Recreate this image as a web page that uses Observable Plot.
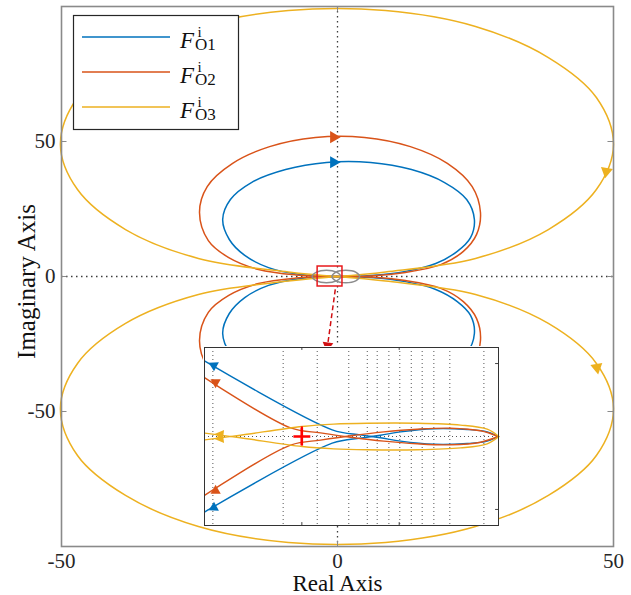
<!DOCTYPE html>
<html><head><meta charset="utf-8">
<script src="https://cdn.jsdelivr.net/npm/d3@7"></script>
<script src="https://cdn.jsdelivr.net/npm/@observablehq/plot@0.6"></script>
<style>
body{margin:0;background:#fff;}
#wrap{position:relative;width:631px;height:595px;font-family:"Liberation Serif","DejaVu Serif",serif;}
#main{position:absolute;left:0;top:0;}
#inset{position:absolute;left:203px;top:346px;}
#legend{position:absolute;left:0;top:0;}
</style></head>
<body><div id="wrap"><div id="main"></div><div id="inset"></div><svg id="legend" width="631" height="595"></svg></div>
<script>
// ---- data ----
const xTicks = [-50, 0, 50];
const yTicks = [-50, 0, 50];
const seriesNames = ["O1", "O2", "O3"];
const seriesColors = ["#0072BD", "#D95319", "#EDB120"];
const serif = '"Liberation Serif", "DejaVu Serif", serif';

// upper half of each Nyquist loop (positive frequencies), main view
const loopO1 = [[0,0],[-6.7,0.7],[-12.5,3.3],[-16.8,7.8],[-19.6,13.7],[-20.8,21.1],[-19.4,28.5],[-15.6,34.8],[-9.4,39.6],[-2.0,42.2],[6.0,42.2],[13.4,39.6],[19.4,34.8],[23.4,28.5],[24.8,21.1],[24.1,14.4],[21.7,9.3],[17.8,4.8],[12.3,1.9],[6.0,0.4],[0,0]];
const loopO2 = [[0,0],[-7.6,0.6],[-14.3,2.6],[-19.7,7.0],[-23.4,13.3],[-25.0,23.7],[-23.6,33.3],[-19.0,41.9],[-12.3,48.1],[-4.0,51.5],[4.9,51.5],[13.2,48.1],[19.9,41.9],[24.4,33.3],[25.9,23.7],[25.2,15.6],[22.8,9.3],[18.7,4.4],[12.3,1.5],[6.0,0.2],[0,0]];
const loopO3 = [[0,0],[-8.9,1.7],[-25.2,6.7],[-38.4,17.4],[-47.1,32.2],[-50.2,48.9],[-47.1,66.3],[-38.4,81.1],[-25.2,92.6],[-8.9,98.5],[8.7,98.5],[25.0,92.6],[38.2,81.1],[46.9,66.3],[50.0,48.9],[46.9,32.2],[38.2,17.4],[25.0,6.7],[8.7,1.7],[0,0]];

// direction arrows in the main view: [x, y, rotation°, series]
const mainArrows = [[-0.7,42.3,90,0],[-0.7,51.6,90,1],[48.7,38.9,190,2],[47.0,-33.7,170,2]];

// grey zoom ellipses around the origin and the zoom box
const ellipseL = [[-4.6,0],[-3.8,1.6],[-2.0,2.3],[-0.2,1.6],[0.6,0],[-0.2,-1.6],[-2.0,-2.3],[-3.8,-1.6]];
const ellipseR = [[-1.0,0],[-0.3,1.6],[1.5,2.3],[3.3,1.6],[4.0,0],[3.3,-1.6],[1.5,-2.3],[-0.3,-1.6]];
const zoomBox = {x1: -3.6, x2: 0.9, y1: -3.7, y2: 3.7};
const zoomPointer = {x1: -0.4, y1: -4.8, x2: -1.8, y2: -25.6};

// inset (zoom near the origin): upper branches
const insetO1 = [[-1.498,0.516],[-0.844,0.046],[-0.699,0.011],[-0.596,-0.009],[-0.493,-0.032],[-0.322,-0.053],[-0.151,-0.048],[-0.048,-0.032],[0.008,0]];
const insetO2 = [[-1.498,0.402],[-1.058,0.059],[-0.904,0.025],[-0.75,-0.005],[-0.579,-0.032],[-0.408,-0.050],[-0.237,-0.057],[-0.082,-0.039],[0.008,0]];
const insetO3 = [[-1.498,0.023],[-1.315,-0.009],[-0.998,-0.069],[-0.836,-0.085],[-0.665,-0.091],[-0.408,-0.091],[-0.185,-0.078],[-0.048,-0.050],[0.012,0]];
const insetArrows = [[-1.452,0.487,-61.6,0],[-1.443,0.372,-59.7,1],[-1.418,0.012,-82.7,2]];
const insetGridX = [-1.457,-1.096,-0.921,-0.759,-0.664,-0.613,-0.553,-0.497,-0.438,-0.382,-0.322,-0.240,-0.065];
const criticalPoint = [{x: -1, y: 0, y1: -0.066, y2: 0.066}];

// ---- build tables ----
const loops = [loopO1, loopO2, loopO3];
const mainLines = [];
loops.forEach((L, s) => {
  L.forEach(([x, y]) => mainLines.push({x, y, s, part: s + "u"}));
  L.forEach(([x, y]) => mainLines.push({x, y: -y, s, part: s + "l"}));
});
const arrowsMain = mainArrows.map(([x, y, r, s]) => ({x, y, r, s}));
const ell = [ellipseL.map(([x,y]) => ({x, y, e: "L"})), ellipseR.map(([x,y]) => ({x, y, e: "R"}))].flat();

const insets = [insetO1, insetO2, insetO3];
const insetLines = [];
insets.forEach((L, s) => {
  L.forEach(([x, y]) => insetLines.push({x, y, s, part: s + "u"}));
  L.forEach(([x, y]) => insetLines.push({x, y: -y, s, part: s + "l"}));
});
const arrowsInset = [];
insetArrows.forEach(([x, y, r, s]) => {
  arrowsInset.push({x, y, r, s});
  arrowsInset.push({x, y: -y, r: 180 - r, s});
});

const color = {type: "ordinal", domain: [0, 1, 2], range: seriesColors};
const dotted = {stroke: "#3c3c3c", strokeDasharray: "1.5,3.5", strokeWidth: 1.3};

const main = Plot.plot({
  width: 631, height: 595,
  marginLeft: 61, marginRight: 18, marginTop: 6, marginBottom: 49,
  x: {domain: [-50, 50], axis: null},
  y: {domain: [-100, 100], axis: null},
  color,
  style: {fontFamily: serif, fontSize: "21px", color: "#262626", background: "white", overflow: "visible"},
  marks: [
    Plot.ruleY([0], dotted),
    Plot.ruleX([0], dotted),
    Plot.line(mainLines, {x: "x", y: "y", z: "part", stroke: "s", strokeWidth: 1.5, curve: "catmull-rom"}),
    Plot.dot(arrowsMain, {x: "x", y: "y", rotate: "r", fill: "s", symbol: "triangle", r: 4.5, stroke: null}),
    Plot.line(ell, {x: "x", y: "y", z: "e", stroke: "#8c8c8c", strokeWidth: 1.5, curve: "catmull-rom-closed"}),
    Plot.rect([zoomBox], {x1: "x1", x2: "x2", y1: "y1", y2: "y2", fill: "none", stroke: "#e8191c", strokeWidth: 1.5}),
    Plot.link([zoomPointer], {x1: "x1", y1: "y1", x2: "x2", y2: "y2", stroke: "#d10f12", strokeWidth: 1.5, strokeDasharray: "5,3"}),
    Plot.dot([zoomPointer], {x: "x2", y: "y2", symbol: "triangle", rotate: 188, r: 4, fill: "#d10f12"}),
    Plot.ruleX(xTicks, {y1: -100, y2: -98, stroke: "#8a8a8a"}),
    Plot.ruleX(xTicks, {y1: 100, y2: 98, stroke: "#8a8a8a"}),
    Plot.ruleY(yTicks, {x1: -50, x2: -49, stroke: "#8a8a8a"}),
    Plot.ruleY(yTicks, {x1: 50, x2: 49, stroke: "#8a8a8a"}),
    Plot.frame({stroke: "#8a8a8a", strokeWidth: 1.6}),
    Plot.axisX(xTicks, {tickSize: 0, tickPadding: 7, label: null, tickFormat: d => String(d), fontFamily: serif, fontSize: 21}),
    Plot.axisY(yTicks, {tickSize: 0, tickPadding: 6, label: null, tickFormat: d => String(d), fontFamily: serif, fontSize: 21}),
    Plot.text(["Real Axis"], {frameAnchor: "bottom", lineAnchor: "middle", dy: 37, fontSize: 23, fontFamily: serif, fill: "#111"}),
    Plot.text(["Imaginary Axis"], {frameAnchor: "left", textAnchor: "middle", lineAnchor: "middle", dx: -35, dy: 5, rotate: -90, fontSize: 25, fontFamily: serif, fill: "#111"})
  ]
});
document.getElementById("main").appendChild(main);

const inset = Plot.plot({
  width: 296, height: 180, margin: 1,
  x: {domain: [-1.5, 0.01], axis: null},
  y: {domain: [-0.61, 0.61], axis: null},
  color,
  style: {background: "white", overflow: "visible"},
  marks: [
    Plot.ruleX(insetGridX, {stroke: "#555", strokeDasharray: "1,3", strokeWidth: 1}),
    Plot.ruleY([0], {stroke: "#555", strokeDasharray: "1,3", strokeWidth: 1}),
    Plot.line(insetLines, {x: "x", y: "y", z: "part", stroke: "s", strokeWidth: 1.4, curve: "catmull-rom"}),
    Plot.dot(arrowsInset, {x: "x", y: "y", rotate: "r", fill: "s", symbol: "triangle", r: 3.8, stroke: null}),
    Plot.ruleX(criticalPoint, {x: "x", y1: "y1", y2: "y2", stroke: "#ff0000", strokeWidth: 2.2}),
    Plot.dot(criticalPoint, {x: "x", y: "y", symbol: "plus", r: 5.5, stroke: "#ff0000", strokeWidth: 2.5}),
    Plot.ruleY([-0.5, 0.5], {x1: 0.01, x2: -0.005, stroke: "#444"}),
    Plot.ruleX([-1, -0.5], {y1: 0.61, y2: 0.59, stroke: "#444"}),
    Plot.ruleX([-1, -0.5], {y1: -0.61, y2: -0.59, stroke: "#444"}),
    Plot.frame({stroke: "#333", strokeWidth: 1})
  ]
});
document.getElementById("inset").appendChild(inset);

// legend
const lg = d3.select("#legend");
lg.append("rect").attr("x", 73.5).attr("y", 15.5).attr("width", 165).attr("height", 114)
  .attr("fill", "white").attr("stroke", "#262626").attr("stroke-width", 1.2);
seriesNames.forEach((name, i) => {
  const y = 37 + 35 * i;
  lg.append("line").attr("x1", 82).attr("x2", 170).attr("y1", y).attr("y2", y)
    .attr("stroke", seriesColors[i]).attr("stroke-width", 1.6);
  const t = lg.append("text").attr("font-family", serif).attr("fill", "#111");
  t.append("tspan").attr("x", 180).attr("y", y + 11).attr("font-size", 23).attr("font-style", "italic").text("F");
  t.append("tspan").attr("x", 197.5).attr("y", y).attr("font-size", 15).text("i");
  t.append("tspan").attr("x", 195).attr("y", y + 13).attr("font-size", 17).text(name);
});
</script></body></html>
